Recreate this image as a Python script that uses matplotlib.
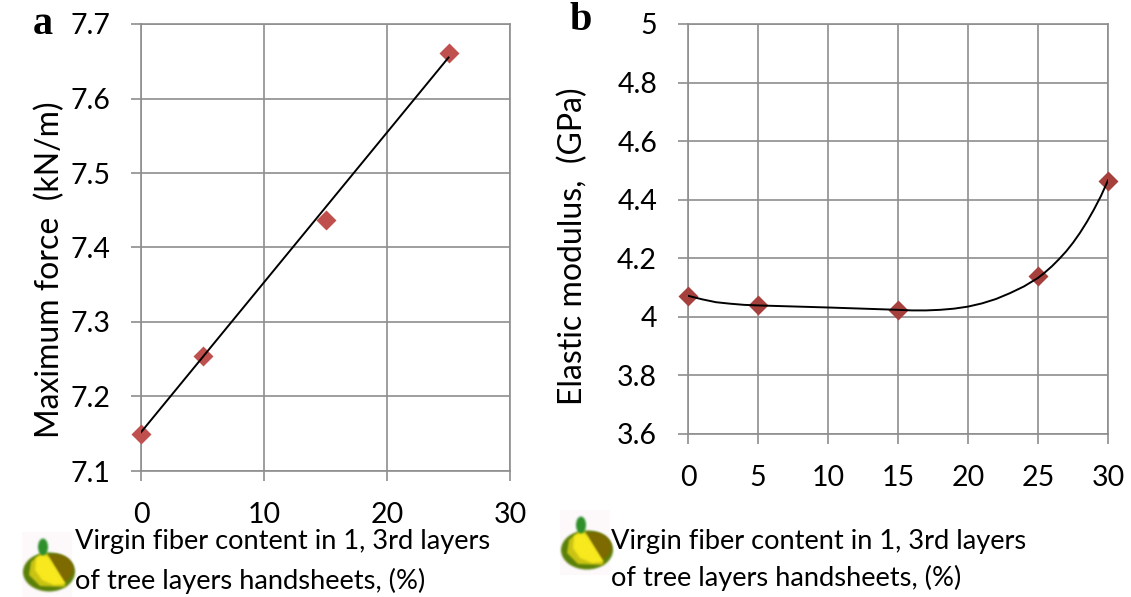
import matplotlib
matplotlib.use('Agg')
import matplotlib.pyplot as plt
import numpy as np
from matplotlib.patches import Ellipse, Polygon, Rectangle

plt.rcParams['font.family'] = ['Lato', 'DejaVu Sans']

W, H = 1131, 597

# panel a
a_x = [0, 5, 15, 25]
a_y = [7.15, 7.255, 7.437, 7.661]
a_line_x = [0, 25]
a_line_y = [7.152, 7.655]
a_xticks = [0, 10, 20, 30]
a_yticks = [7.1, 7.2, 7.3, 7.4, 7.5, 7.6, 7.7]

# panel b
b_x = [0, 5, 15, 25, 30]
b_y = [4.071, 4.04, 4.025, 4.14, 4.465]
b_curve_x = [0, 1, 2, 3, 4, 5, 10, 15, 16, 17, 18, 19, 20, 21, 22, 23, 24, 25,
             25.5, 26, 26.5, 27, 27.5, 28, 28.5, 29, 29.5, 30]
b_curve_y = [4.072, 4.060, 4.050, 4.045, 4.041, 4.039, 4.032, 4.024, 4.022, 4.022, 4.024, 4.028,
             4.035, 4.046, 4.061, 4.081, 4.104, 4.133,
             4.152, 4.173, 4.197, 4.223, 4.253, 4.287, 4.325, 4.367, 4.413, 4.466]
b_xticks = [0, 5, 10, 15, 20, 25, 30]
b_yticks = [3.6, 3.8, 4, 4.2, 4.4, 4.6, 4.8, 5]

xlabel_1 = 'Virgin fiber content in 1, 3rd layers'
xlabel_2 = 'of tree layers handsheets, (%)'

GRID = '#8e8e8e'


def make_ax(left, right, top, bottom):
    ax = fig.add_axes([left / W, 1 - bottom / H, (right - left) / W, (bottom - top) / H])
    ax.grid(True, color=GRID, lw=1.2)
    ax.set_axisbelow(True)
    for s in ax.spines.values():
        s.set_color(GRID)
        s.set_linewidth(1.2)
    ax.tick_params(length=7.2, width=1.2, color=GRID, labelsize=20.5, pad=15)
    return ax


# soft edges for the small logo, only alpha is blurred so no dark rim shows
def blur(im, dpi):
    pad = 6
    out = np.pad(im, ((pad, pad), (pad, pad), (0, 0)))
    color = out[out[..., 3] > 0.5][:, :3]
    if len(color):
        out[..., :3] = np.median(color, axis=0)
    kernel = np.array([1, 4, 6, 4, 1]) / 16
    for axis in (0, 1):
        out[..., 3] = np.apply_along_axis(lambda v: np.convolve(v, kernel, mode='same'), axis, out[..., 3])
    return out, -pad, -pad


fig = plt.figure(figsize=(W / 100, H / 100), dpi=100, facecolor='white')

ax1 = make_ax(141, 510, 24, 471)
ax1.set_xlim(0, 30)
ax1.set_ylim(7.1, 7.7)
ax1.set_xticks(a_xticks)
ax1.set_yticks(a_yticks)
ax1.plot(a_x, a_y, ls='none', marker='D', ms=10, color='#c0504d', mec='none', clip_on=False, zorder=3)
ax1.plot(a_line_x, a_line_y, color='black', lw=1.4, zorder=4)

ax2 = make_ax(688, 1108, 24, 434)
ax2.set_xlim(0, 30)
ax2.set_ylim(3.6, 5)
ax2.set_xticks(b_xticks)
ax2.set_yticks(b_yticks)
ax2.set_yticklabels(['3.6', '3.8', '4', '4.2', '4.4', '4.6', '4.8', '5'])
ax2.plot(b_x, b_y, ls='none', marker='D', ms=10, color='#a5403d', mec='none', clip_on=False, zorder=3)
ax2.plot(b_curve_x, b_curve_y, color='black', lw=1.4, zorder=4)

# everything outside the axes is placed in pixels
over = fig.add_axes([0, 0, 1, 1], zorder=5)
over.set_xlim(0, W)
over.set_ylim(H, 0)
over.axis('off')


def draw_icon(dx, dy):
    over.add_patch(Rectangle((22 + dx, 532 + dy), 50, 65, color='#fdf9fb', lw=0))
    parts = [
        Ellipse((49 + dx, 572 + dy), 52, 39, color='#5a8008', lw=0),
        Ellipse((55 + dx, 569 + dy), 37, 30, color='#7d6a00', lw=0),
        Polygon([(42 + dx, 552 + dy), (31 + dx, 562 + dy), (29 + dx, 575 + dy), (40 + dx, 586 + dy),
                 (66 + dx, 587 + dy), (47 + dx, 553 + dy)], closed=True, color='#c9c414', lw=0),
        Polygon([(36 + dx, 558 + dy), (44 + dx, 554 + dy), (49 + dx, 558 + dy), (66 + dx, 584 + dy),
                 (54 + dx, 585 + dy), (42 + dx, 580 + dy), (35 + dx, 570 + dy)], closed=True, color='#f8e81e', lw=0),
        Ellipse((43 + dx, 547 + dy), 10, 17, color='#2f8f2a', lw=0),
    ]
    for p in parts:
        p.set_agg_filter(blur)
        over.add_patch(p)


draw_icon(0, 0)
draw_icon(538, -22)

over.text(50, 270, 'Maximum force  (kN/m)', rotation=90, fontsize=23, ha='center', va='center')
over.text(573, 246, 'Elastic modulus,  (GPa)', rotation=90, fontsize=23, ha='center', va='center')

over.text(75, 541, xlabel_1, fontsize=19.6, va='center')
over.text(75, 581, xlabel_2, fontsize=19.6, va='center')
over.text(611, 541, xlabel_1, fontsize=19.6, va='center')
over.text(611, 578, xlabel_2, fontsize=19.6, va='center')

over.text(43, 25, 'a', family='Liberation Serif', weight='bold', fontsize=29, ha='center', va='center')
over.text(581, 20, 'b', family='Liberation Serif', weight='bold', fontsize=29, ha='center', va='center')

fig.savefig('out.png', dpi=100)
